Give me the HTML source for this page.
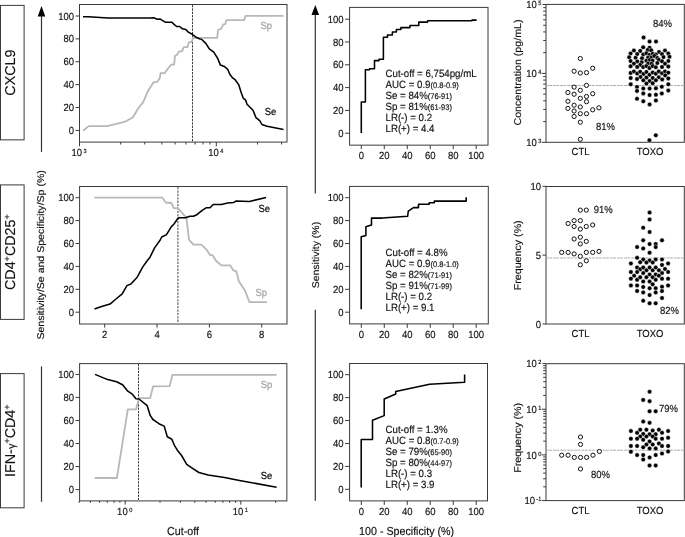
<!DOCTYPE html>
<html><head><meta charset="utf-8"><style>
html,body{margin:0;padding:0;background:#fff;overflow:hidden;}
svg{display:block;font-family:"Liberation Sans", sans-serif;will-change:transform;}
text{stroke-width:0.15px;stroke-linejoin:round;text-rendering:geometricPrecision;}
</style></head><body>
<svg width="685" height="537" viewBox="0 0 685 537">
<rect width="685" height="537" fill="#fff"/>
<rect x="0.5" y="5.4" width="23.6" height="134.45" fill="none" stroke="#3a3a3a" stroke-width="1"/>
<text transform="translate(15.3,72.62) rotate(-90)" font-size="14.3" text-anchor="middle" fill="#111" stroke="#111">CXCL9</text>
<rect x="0.5" y="184.9" width="23.6" height="134.50" fill="none" stroke="#3a3a3a" stroke-width="1"/>
<text transform="translate(15.3,252.15) rotate(-90)" font-size="14.3" text-anchor="middle" fill="#111" stroke="#111">CD4<tspan dy="-5" font-size="9">+</tspan><tspan dy="5">CD25</tspan><tspan dy="-5" font-size="9">+</tspan></text>
<rect x="0.5" y="373.6" width="23.6" height="134.20" fill="none" stroke="#3a3a3a" stroke-width="1"/>
<text transform="translate(15.3,440.70) rotate(-90)" font-size="14.3" text-anchor="middle" fill="#111" stroke="#111">IFN-<tspan font-size="11">γ</tspan><tspan dy="-5" font-size="9">+</tspan><tspan dy="5">CD4</tspan><tspan dy="-5" font-size="9">+</tspan></text>
<polygon points="41.50,6.0 37.70,16.5 45.30,16.5" fill="#000"/>
<line x1="41.50" y1="16.00" x2="41.50" y2="151.90" stroke="#333" stroke-width="1.2" />
<line x1="41.50" y1="366.40" x2="41.50" y2="501.80" stroke="#333" stroke-width="1.2" />
<polygon points="315.30,4.9 311.50,14.9 319.10,14.9" fill="#000"/>
<line x1="315.30" y1="14.00" x2="315.30" y2="193.60" stroke="#333" stroke-width="1.2" />
<line x1="315.30" y1="309.70" x2="315.30" y2="500.70" stroke="#333" stroke-width="1.2" />
<text transform="translate(44.4,254.9) rotate(-90) scale(1.08,1)" font-size="9.77" text-anchor="middle" fill="#111" stroke="#111">Sensitivity/Se and Specificity/Sp (%)</text>
<text transform="translate(319.4,255.1) rotate(-90) scale(1.08,1)" font-size="9.72" text-anchor="middle" fill="#111" stroke="#111">Sensitivity (%)</text>
<rect x="79.5" y="4.5" width="207.5" height="137.6" fill="none" stroke="#3a3a3a" stroke-width="1"/>
<line x1="75.50" y1="130.40" x2="79.50" y2="130.40" stroke="#3a3a3a" stroke-width="1" />
<text transform="translate(74.00,134.00) scale(1,1.08)" font-size="9.5" text-anchor="end" fill="#111" stroke="#111" >0</text>
<line x1="75.50" y1="107.52" x2="79.50" y2="107.52" stroke="#3a3a3a" stroke-width="1" />
<text transform="translate(74.00,111.12) scale(1,1.08)" font-size="9.5" text-anchor="end" fill="#111" stroke="#111" >20</text>
<line x1="75.50" y1="84.64" x2="79.50" y2="84.64" stroke="#3a3a3a" stroke-width="1" />
<text transform="translate(74.00,88.24) scale(1,1.08)" font-size="9.5" text-anchor="end" fill="#111" stroke="#111" >40</text>
<line x1="75.50" y1="61.76" x2="79.50" y2="61.76" stroke="#3a3a3a" stroke-width="1" />
<text transform="translate(74.00,65.36) scale(1,1.08)" font-size="9.5" text-anchor="end" fill="#111" stroke="#111" >60</text>
<line x1="75.50" y1="38.88" x2="79.50" y2="38.88" stroke="#3a3a3a" stroke-width="1" />
<text transform="translate(74.00,42.48) scale(1,1.08)" font-size="9.5" text-anchor="end" fill="#111" stroke="#111" >80</text>
<line x1="75.50" y1="16.00" x2="79.50" y2="16.00" stroke="#3a3a3a" stroke-width="1" />
<text transform="translate(74.00,19.60) scale(1,1.08)" font-size="9.5" text-anchor="end" fill="#111" stroke="#111" >100</text>
<line x1="79.50" y1="142.10" x2="79.50" y2="146.30" stroke="#3a3a3a" stroke-width="1" />
<line x1="120.68" y1="142.10" x2="120.68" y2="144.50" stroke="#3a3a3a" stroke-width="1" />
<line x1="144.77" y1="142.10" x2="144.77" y2="144.50" stroke="#3a3a3a" stroke-width="1" />
<line x1="161.86" y1="142.10" x2="161.86" y2="144.50" stroke="#3a3a3a" stroke-width="1" />
<line x1="175.12" y1="142.10" x2="175.12" y2="144.50" stroke="#3a3a3a" stroke-width="1" />
<line x1="185.95" y1="142.10" x2="185.95" y2="144.50" stroke="#3a3a3a" stroke-width="1" />
<line x1="195.11" y1="142.10" x2="195.11" y2="144.50" stroke="#3a3a3a" stroke-width="1" />
<line x1="203.04" y1="142.10" x2="203.04" y2="144.50" stroke="#3a3a3a" stroke-width="1" />
<line x1="210.04" y1="142.10" x2="210.04" y2="144.50" stroke="#3a3a3a" stroke-width="1" />
<line x1="216.30" y1="142.10" x2="216.30" y2="146.30" stroke="#3a3a3a" stroke-width="1" />
<line x1="257.48" y1="142.10" x2="257.48" y2="144.50" stroke="#3a3a3a" stroke-width="1" />
<line x1="281.57" y1="142.10" x2="281.57" y2="144.50" stroke="#3a3a3a" stroke-width="1" />
<text transform="translate(71.40,155.80) scale(1,1.08)" font-size="9.5" text-anchor="start" fill="#111" stroke="#111" >10<tspan dx="1.5" dy="-2.8" font-size="5.6">3</tspan></text>
<text transform="translate(208.20,155.80) scale(1,1.08)" font-size="9.5" text-anchor="start" fill="#111" stroke="#111" >10<tspan dx="1.5" dy="-2.8" font-size="5.6">4</tspan></text>
<line x1="192.50" y1="5.00" x2="192.50" y2="142.00" stroke="#3c3c3c" stroke-width="1" stroke-dasharray="2.3,1.05"/>
<polyline points="83.20,130.70 88.70,126.10 106.90,126.10 116.40,123.80 125.10,121.70 133.00,117.30 137.80,109.00 143.30,101.90 148.00,90.90 153.60,82.20 156.90,82.20 159.70,78.30 160.60,73.10 164.80,73.10 168.00,68.50 171.30,64.60 174.10,64.60 175.00,55.90 176.90,55.00 179.20,51.30 182.00,51.30 183.80,47.10 187.60,47.10 188.70,42.40 191.70,42.00 192.70,38.70 194.10,37.80 217.20,37.80 218.00,29.80 221.00,29.00 223.20,24.60 225.40,23.80 226.20,20.10 244.00,20.10 245.50,15.90 283.50,15.90" fill="none" stroke="#b8b8b8" stroke-width="1.8" stroke-linejoin="round" />
<polyline points="83.00,16.70 88.60,16.70 108.00,18.10 150.00,18.00 153.60,17.80 157.30,19.30 160.20,19.10 165.30,22.20 171.90,22.20 174.10,24.40 176.60,26.50 179.60,26.50 182.50,28.80 185.80,29.50 188.30,32.10 192.30,34.30 196.00,37.20 200.00,39.00 201.50,39.30 206.00,43.60 209.30,48.90 213.80,52.10 217.80,58.60 220.40,65.10 224.30,66.40 227.70,69.30 229.90,74.50 232.90,78.20 235.10,79.70 238.80,84.90 241.10,92.30 243.30,98.30 245.50,99.80 247.00,104.30 253.00,110.20 256.00,117.70 259.70,120.70 261.90,124.40 267.10,126.30 283.50,129.60" fill="none" stroke="#000" stroke-width="1.55" stroke-linejoin="round" />
<text transform="translate(260.50,28.60) scale(1,1.08)" font-size="9.5" text-anchor="start" fill="#a0a0a0" stroke="#a0a0a0" >Sp</text>
<text transform="translate(264.70,115.10) scale(1,1.08)" font-size="9.5" text-anchor="start" fill="#000" stroke="#000" >Se</text>
<rect x="79.6" y="186.5" width="207.4" height="137.5" fill="none" stroke="#3a3a3a" stroke-width="1"/>
<line x1="75.50" y1="312.20" x2="79.50" y2="312.20" stroke="#3a3a3a" stroke-width="1" />
<text transform="translate(74.00,315.80) scale(1,1.08)" font-size="9.5" text-anchor="end" fill="#111" stroke="#111" >0</text>
<line x1="75.50" y1="289.30" x2="79.50" y2="289.30" stroke="#3a3a3a" stroke-width="1" />
<text transform="translate(74.00,292.90) scale(1,1.08)" font-size="9.5" text-anchor="end" fill="#111" stroke="#111" >20</text>
<line x1="75.50" y1="266.40" x2="79.50" y2="266.40" stroke="#3a3a3a" stroke-width="1" />
<text transform="translate(74.00,270.00) scale(1,1.08)" font-size="9.5" text-anchor="end" fill="#111" stroke="#111" >40</text>
<line x1="75.50" y1="243.50" x2="79.50" y2="243.50" stroke="#3a3a3a" stroke-width="1" />
<text transform="translate(74.00,247.10) scale(1,1.08)" font-size="9.5" text-anchor="end" fill="#111" stroke="#111" >60</text>
<line x1="75.50" y1="220.60" x2="79.50" y2="220.60" stroke="#3a3a3a" stroke-width="1" />
<text transform="translate(74.00,224.20) scale(1,1.08)" font-size="9.5" text-anchor="end" fill="#111" stroke="#111" >80</text>
<line x1="75.50" y1="197.70" x2="79.50" y2="197.70" stroke="#3a3a3a" stroke-width="1" />
<text transform="translate(74.00,201.30) scale(1,1.08)" font-size="9.5" text-anchor="end" fill="#111" stroke="#111" >100</text>
<line x1="104.70" y1="324.00" x2="104.70" y2="327.60" stroke="#3a3a3a" stroke-width="1" />
<text transform="translate(104.70,337.60) scale(1,1.08)" font-size="9.5" text-anchor="middle" fill="#111" stroke="#111" >2</text>
<line x1="157.04" y1="324.00" x2="157.04" y2="327.60" stroke="#3a3a3a" stroke-width="1" />
<text transform="translate(157.04,337.60) scale(1,1.08)" font-size="9.5" text-anchor="middle" fill="#111" stroke="#111" >4</text>
<line x1="209.38" y1="324.00" x2="209.38" y2="327.60" stroke="#3a3a3a" stroke-width="1" />
<text transform="translate(209.38,337.60) scale(1,1.08)" font-size="9.5" text-anchor="middle" fill="#111" stroke="#111" >6</text>
<line x1="261.72" y1="324.00" x2="261.72" y2="327.60" stroke="#3a3a3a" stroke-width="1" />
<text transform="translate(261.72,337.60) scale(1,1.08)" font-size="9.5" text-anchor="middle" fill="#111" stroke="#111" >8</text>
<line x1="177.90" y1="187.00" x2="177.90" y2="323.00" stroke="#7a7a7a" stroke-width="1.4" stroke-dasharray="2.3,1.1"/>
<polyline points="94.30,197.70 162.50,197.70 165.70,202.50 171.40,203.00 173.80,208.10 177.80,208.10 186.40,217.70 189.00,239.60 193.40,244.70 201.30,244.70 206.50,249.60 210.00,254.90 212.70,255.40 216.20,261.00 221.40,265.40 230.20,265.40 233.70,270.70 236.30,271.20 238.90,281.20 245.10,290.80 249.50,302.20 267.00,302.20" fill="none" stroke="#b8b8b8" stroke-width="1.8" stroke-linejoin="round" />
<polyline points="94.50,309.10 100.80,306.80 110.00,304.10 116.60,298.50 122.20,293.80 126.90,285.60 130.90,284.00 137.20,277.20 142.80,266.90 148.10,259.50 149.90,257.40 154.60,247.90 160.20,240.00 161.70,237.00 166.50,234.60 171.40,226.60 173.80,224.20 177.80,218.50 179.40,217.70 185.50,217.70 189.90,216.30 193.40,216.30 196.90,214.70 202.20,210.30 206.50,207.70 210.00,207.70 213.20,204.50 221.40,204.50 227.60,203.10 233.70,202.40 236.30,201.00 249.50,201.40 266.10,197.50" fill="none" stroke="#000" stroke-width="1.55" stroke-linejoin="round" />
<text transform="translate(258.50,212.40) scale(1,1.08)" font-size="9.5" text-anchor="start" fill="#000" stroke="#000" >Se</text>
<text transform="translate(255.40,296.10) scale(1,1.08)" font-size="9.5" text-anchor="start" fill="#a0a0a0" stroke="#a0a0a0" >Sp</text>
<rect x="79.6" y="363.6" width="207.25000000000003" height="137.29999999999995" fill="none" stroke="#3a3a3a" stroke-width="1"/>
<line x1="75.50" y1="489.60" x2="79.50" y2="489.60" stroke="#3a3a3a" stroke-width="1" />
<text transform="translate(74.00,493.20) scale(1,1.08)" font-size="9.5" text-anchor="end" fill="#111" stroke="#111" >0</text>
<line x1="75.50" y1="466.56" x2="79.50" y2="466.56" stroke="#3a3a3a" stroke-width="1" />
<text transform="translate(74.00,470.16) scale(1,1.08)" font-size="9.5" text-anchor="end" fill="#111" stroke="#111" >20</text>
<line x1="75.50" y1="443.52" x2="79.50" y2="443.52" stroke="#3a3a3a" stroke-width="1" />
<text transform="translate(74.00,447.12) scale(1,1.08)" font-size="9.5" text-anchor="end" fill="#111" stroke="#111" >40</text>
<line x1="75.50" y1="420.48" x2="79.50" y2="420.48" stroke="#3a3a3a" stroke-width="1" />
<text transform="translate(74.00,424.08) scale(1,1.08)" font-size="9.5" text-anchor="end" fill="#111" stroke="#111" >60</text>
<line x1="75.50" y1="397.44" x2="79.50" y2="397.44" stroke="#3a3a3a" stroke-width="1" />
<text transform="translate(74.00,401.04) scale(1,1.08)" font-size="9.5" text-anchor="end" fill="#111" stroke="#111" >80</text>
<line x1="75.50" y1="374.40" x2="79.50" y2="374.40" stroke="#3a3a3a" stroke-width="1" />
<text transform="translate(74.00,378.00) scale(1,1.08)" font-size="9.5" text-anchor="end" fill="#111" stroke="#111" >100</text>
<line x1="79.20" y1="500.90" x2="79.20" y2="502.80" stroke="#3a3a3a" stroke-width="1" />
<line x1="90.40" y1="500.90" x2="90.40" y2="502.80" stroke="#3a3a3a" stroke-width="1" />
<line x1="99.55" y1="500.90" x2="99.55" y2="502.80" stroke="#3a3a3a" stroke-width="1" />
<line x1="107.29" y1="500.90" x2="107.29" y2="502.80" stroke="#3a3a3a" stroke-width="1" />
<line x1="114.00" y1="500.90" x2="114.00" y2="502.80" stroke="#3a3a3a" stroke-width="1" />
<line x1="119.91" y1="500.90" x2="119.91" y2="502.80" stroke="#3a3a3a" stroke-width="1" />
<line x1="125.20" y1="500.90" x2="125.20" y2="504.60" stroke="#3a3a3a" stroke-width="1" />
<line x1="160.00" y1="500.90" x2="160.00" y2="502.80" stroke="#3a3a3a" stroke-width="1" />
<line x1="180.36" y1="500.90" x2="180.36" y2="502.80" stroke="#3a3a3a" stroke-width="1" />
<line x1="194.80" y1="500.90" x2="194.80" y2="502.80" stroke="#3a3a3a" stroke-width="1" />
<line x1="206.00" y1="500.90" x2="206.00" y2="502.80" stroke="#3a3a3a" stroke-width="1" />
<line x1="215.15" y1="500.90" x2="215.15" y2="502.80" stroke="#3a3a3a" stroke-width="1" />
<line x1="222.89" y1="500.90" x2="222.89" y2="502.80" stroke="#3a3a3a" stroke-width="1" />
<line x1="229.60" y1="500.90" x2="229.60" y2="502.80" stroke="#3a3a3a" stroke-width="1" />
<line x1="235.51" y1="500.90" x2="235.51" y2="502.80" stroke="#3a3a3a" stroke-width="1" />
<line x1="240.80" y1="500.90" x2="240.80" y2="504.60" stroke="#3a3a3a" stroke-width="1" />
<line x1="275.60" y1="500.90" x2="275.60" y2="502.80" stroke="#3a3a3a" stroke-width="1" />
<text transform="translate(117.10,514.80) scale(1,1.08)" font-size="9.5" text-anchor="start" fill="#111" stroke="#111" >10<tspan dx="1.5" dy="-2.8" font-size="5.6">0</tspan></text>
<text transform="translate(232.70,514.80) scale(1,1.08)" font-size="9.5" text-anchor="start" fill="#111" stroke="#111" >10<tspan dx="1.5" dy="-2.8" font-size="5.6">1</tspan></text>
<line x1="138.50" y1="364.00" x2="138.50" y2="500.00" stroke="#3c3c3c" stroke-width="1" stroke-dasharray="2.3,1.05"/>
<polyline points="94.80,478.00 116.90,478.00 127.80,409.40 136.00,409.40 139.00,398.20 150.20,398.20 153.10,386.30 169.70,386.10 172.40,374.80 276.60,374.80" fill="none" stroke="#b8b8b8" stroke-width="1.8" stroke-linejoin="round" />
<polyline points="95.00,374.40 107.70,379.60 116.60,381.80 122.60,384.80 127.80,391.20 132.30,394.20 136.00,398.70 139.00,399.00 147.20,405.70 150.20,415.40 153.10,419.80 155.00,420.80 160.00,424.30 164.20,426.10 167.30,436.70 171.80,439.20 174.40,445.30 177.50,450.40 181.60,455.50 186.70,464.30 191.80,467.80 198.90,472.50 208.10,475.00 224.50,477.40 240.80,480.70 276.60,487.20" fill="none" stroke="#000" stroke-width="1.55" stroke-linejoin="round" />
<text transform="translate(260.70,388.10) scale(1,1.08)" font-size="9.5" text-anchor="start" fill="#a0a0a0" stroke="#a0a0a0" >Sp</text>
<text transform="translate(260.70,479.00) scale(1,1.08)" font-size="9.5" text-anchor="start" fill="#000" stroke="#000" >Se</text>
<text transform="translate(183.00,534.60) scale(1,1.08)" font-size="10.7" text-anchor="middle" fill="#111" stroke="#111" >Cut-off</text>
<rect x="349.6" y="7.4" width="138.39999999999998" height="137.75" fill="none" stroke="#3a3a3a" stroke-width="1"/>
<line x1="345.10" y1="133.20" x2="349.60" y2="133.20" stroke="#3a3a3a" stroke-width="1" />
<text transform="translate(343.60,136.80) scale(1,1.08)" font-size="9.5" text-anchor="end" fill="#111" stroke="#111" >0</text>
<line x1="345.10" y1="110.40" x2="349.60" y2="110.40" stroke="#3a3a3a" stroke-width="1" />
<text transform="translate(343.60,114.00) scale(1,1.08)" font-size="9.5" text-anchor="end" fill="#111" stroke="#111" >20</text>
<line x1="345.10" y1="87.60" x2="349.60" y2="87.60" stroke="#3a3a3a" stroke-width="1" />
<text transform="translate(343.60,91.20) scale(1,1.08)" font-size="9.5" text-anchor="end" fill="#111" stroke="#111" >40</text>
<line x1="345.10" y1="64.80" x2="349.60" y2="64.80" stroke="#3a3a3a" stroke-width="1" />
<text transform="translate(343.60,68.40) scale(1,1.08)" font-size="9.5" text-anchor="end" fill="#111" stroke="#111" >60</text>
<line x1="345.10" y1="42.00" x2="349.60" y2="42.00" stroke="#3a3a3a" stroke-width="1" />
<text transform="translate(343.60,45.60) scale(1,1.08)" font-size="9.5" text-anchor="end" fill="#111" stroke="#111" >80</text>
<line x1="345.10" y1="19.20" x2="349.60" y2="19.20" stroke="#3a3a3a" stroke-width="1" />
<text transform="translate(343.60,22.80) scale(1,1.08)" font-size="9.5" text-anchor="end" fill="#111" stroke="#111" >100</text>
<line x1="361.30" y1="145.15" x2="361.30" y2="149.15" stroke="#3a3a3a" stroke-width="1" />
<text transform="translate(361.30,158.75) scale(1,1.08)" font-size="9.5" text-anchor="middle" fill="#111" stroke="#111" >0</text>
<line x1="384.28" y1="145.15" x2="384.28" y2="149.15" stroke="#3a3a3a" stroke-width="1" />
<text transform="translate(384.28,158.75) scale(1,1.08)" font-size="9.5" text-anchor="middle" fill="#111" stroke="#111" >20</text>
<line x1="407.26" y1="145.15" x2="407.26" y2="149.15" stroke="#3a3a3a" stroke-width="1" />
<text transform="translate(407.26,158.75) scale(1,1.08)" font-size="9.5" text-anchor="middle" fill="#111" stroke="#111" >40</text>
<line x1="430.24" y1="145.15" x2="430.24" y2="149.15" stroke="#3a3a3a" stroke-width="1" />
<text transform="translate(430.24,158.75) scale(1,1.08)" font-size="9.5" text-anchor="middle" fill="#111" stroke="#111" >60</text>
<line x1="453.22" y1="145.15" x2="453.22" y2="149.15" stroke="#3a3a3a" stroke-width="1" />
<text transform="translate(453.22,158.75) scale(1,1.08)" font-size="9.5" text-anchor="middle" fill="#111" stroke="#111" >80</text>
<line x1="476.20" y1="145.15" x2="476.20" y2="149.15" stroke="#3a3a3a" stroke-width="1" />
<text transform="translate(476.20,158.75) scale(1,1.08)" font-size="9.5" text-anchor="middle" fill="#111" stroke="#111" >100</text>
<polyline points="361.30,133.00 361.30,101.90 365.40,101.90 365.40,69.70 369.60,69.70 369.60,68.80 374.50,68.80 374.50,60.60 379.00,60.60 379.00,59.30 383.40,59.30 383.40,37.20 387.50,37.20 387.50,35.00 392.40,35.00 392.40,32.00 396.40,32.00 396.40,29.50 400.90,29.50 400.90,27.60 410.00,27.60 410.00,25.40 418.80,25.40 418.80,22.10 427.60,22.10 427.60,20.80 472.00,20.80 472.00,20.10 476.60,20.10" fill="none" stroke="#000" stroke-width="1.55" stroke-linejoin="round" stroke-linejoin="miter"/>
<text transform="translate(385.50,76.60) scale(1,1.08)" font-size="9.7" text-anchor="start" fill="#111" stroke="#111" >Cut-off = 6,754pg/mL</text>
<text transform="translate(385.50,87.60) scale(1,1.08)" font-size="9.7" text-anchor="start" fill="#111" stroke="#111" >AUC = 0.9<tspan font-size="7.5">(0.8-0.9)</tspan></text>
<text transform="translate(385.50,98.60) scale(1,1.08)" font-size="9.7" text-anchor="start" fill="#111" stroke="#111" >Se = 84%<tspan font-size="7.5">(76-91)</tspan></text>
<text transform="translate(385.50,109.60) scale(1,1.08)" font-size="9.7" text-anchor="start" fill="#111" stroke="#111" >Sp = 81%<tspan font-size="7.5">(61-93)</tspan></text>
<text transform="translate(385.50,120.60) scale(1,1.08)" font-size="9.7" text-anchor="start" fill="#111" stroke="#111" >LR(-) = 0.2</text>
<text transform="translate(385.50,131.60) scale(1,1.08)" font-size="9.7" text-anchor="start" fill="#111" stroke="#111" >LR(+) = 4.4</text>
<rect x="349.6" y="186.4" width="138.7" height="137.49999999999997" fill="none" stroke="#3a3a3a" stroke-width="1"/>
<line x1="345.10" y1="312.20" x2="349.60" y2="312.20" stroke="#3a3a3a" stroke-width="1" />
<text transform="translate(343.60,315.80) scale(1,1.08)" font-size="9.5" text-anchor="end" fill="#111" stroke="#111" >0</text>
<line x1="345.10" y1="289.30" x2="349.60" y2="289.30" stroke="#3a3a3a" stroke-width="1" />
<text transform="translate(343.60,292.90) scale(1,1.08)" font-size="9.5" text-anchor="end" fill="#111" stroke="#111" >20</text>
<line x1="345.10" y1="266.40" x2="349.60" y2="266.40" stroke="#3a3a3a" stroke-width="1" />
<text transform="translate(343.60,270.00) scale(1,1.08)" font-size="9.5" text-anchor="end" fill="#111" stroke="#111" >40</text>
<line x1="345.10" y1="243.50" x2="349.60" y2="243.50" stroke="#3a3a3a" stroke-width="1" />
<text transform="translate(343.60,247.10) scale(1,1.08)" font-size="9.5" text-anchor="end" fill="#111" stroke="#111" >60</text>
<line x1="345.10" y1="220.60" x2="349.60" y2="220.60" stroke="#3a3a3a" stroke-width="1" />
<text transform="translate(343.60,224.20) scale(1,1.08)" font-size="9.5" text-anchor="end" fill="#111" stroke="#111" >80</text>
<line x1="345.10" y1="197.70" x2="349.60" y2="197.70" stroke="#3a3a3a" stroke-width="1" />
<text transform="translate(343.60,201.30) scale(1,1.08)" font-size="9.5" text-anchor="end" fill="#111" stroke="#111" >100</text>
<line x1="361.30" y1="323.90" x2="361.30" y2="327.90" stroke="#3a3a3a" stroke-width="1" />
<text transform="translate(361.30,337.50) scale(1,1.08)" font-size="9.5" text-anchor="middle" fill="#111" stroke="#111" >0</text>
<line x1="384.28" y1="323.90" x2="384.28" y2="327.90" stroke="#3a3a3a" stroke-width="1" />
<text transform="translate(384.28,337.50) scale(1,1.08)" font-size="9.5" text-anchor="middle" fill="#111" stroke="#111" >20</text>
<line x1="407.26" y1="323.90" x2="407.26" y2="327.90" stroke="#3a3a3a" stroke-width="1" />
<text transform="translate(407.26,337.50) scale(1,1.08)" font-size="9.5" text-anchor="middle" fill="#111" stroke="#111" >40</text>
<line x1="430.24" y1="323.90" x2="430.24" y2="327.90" stroke="#3a3a3a" stroke-width="1" />
<text transform="translate(430.24,337.50) scale(1,1.08)" font-size="9.5" text-anchor="middle" fill="#111" stroke="#111" >60</text>
<line x1="453.22" y1="323.90" x2="453.22" y2="327.90" stroke="#3a3a3a" stroke-width="1" />
<text transform="translate(453.22,337.50) scale(1,1.08)" font-size="9.5" text-anchor="middle" fill="#111" stroke="#111" >80</text>
<line x1="476.20" y1="323.90" x2="476.20" y2="327.90" stroke="#3a3a3a" stroke-width="1" />
<text transform="translate(476.20,337.50) scale(1,1.08)" font-size="9.5" text-anchor="middle" fill="#111" stroke="#111" >100</text>
<polyline points="361.20,309.20 361.20,236.80 365.90,235.40 365.90,226.70 371.50,224.90 371.50,218.10 382.20,218.10 407.60,216.30 408.30,211.10 413.50,207.60 418.50,207.60 418.50,204.30 429.20,204.30 429.20,202.80 434.30,202.80 434.30,201.10 466.20,201.10 466.20,197.30" fill="none" stroke="#000" stroke-width="1.55" stroke-linejoin="round" stroke-linejoin="miter"/>
<text transform="translate(385.50,255.90) scale(1,1.08)" font-size="9.7" text-anchor="start" fill="#111" stroke="#111" >Cut-off = 4.8%</text>
<text transform="translate(385.50,266.90) scale(1,1.08)" font-size="9.7" text-anchor="start" fill="#111" stroke="#111" >AUC = 0.9<tspan font-size="7.5">(0.8-1.0)</tspan></text>
<text transform="translate(385.50,277.90) scale(1,1.08)" font-size="9.7" text-anchor="start" fill="#111" stroke="#111" >Se = 82%<tspan font-size="7.5">(71-91)</tspan></text>
<text transform="translate(385.50,288.90) scale(1,1.08)" font-size="9.7" text-anchor="start" fill="#111" stroke="#111" >Sp = 91%<tspan font-size="7.5">(71-99)</tspan></text>
<text transform="translate(385.50,299.90) scale(1,1.08)" font-size="9.7" text-anchor="start" fill="#111" stroke="#111" >LR(-) = 0.2</text>
<text transform="translate(385.50,310.90) scale(1,1.08)" font-size="9.7" text-anchor="start" fill="#111" stroke="#111" >LR(+) = 9.1</text>
<rect x="349.6" y="363.5" width="137.89999999999998" height="137.39999999999998" fill="none" stroke="#3a3a3a" stroke-width="1"/>
<line x1="345.10" y1="489.30" x2="349.60" y2="489.30" stroke="#3a3a3a" stroke-width="1" />
<text transform="translate(343.60,492.90) scale(1,1.08)" font-size="9.5" text-anchor="end" fill="#111" stroke="#111" >0</text>
<line x1="345.10" y1="466.38" x2="349.60" y2="466.38" stroke="#3a3a3a" stroke-width="1" />
<text transform="translate(343.60,469.98) scale(1,1.08)" font-size="9.5" text-anchor="end" fill="#111" stroke="#111" >20</text>
<line x1="345.10" y1="443.46" x2="349.60" y2="443.46" stroke="#3a3a3a" stroke-width="1" />
<text transform="translate(343.60,447.06) scale(1,1.08)" font-size="9.5" text-anchor="end" fill="#111" stroke="#111" >40</text>
<line x1="345.10" y1="420.54" x2="349.60" y2="420.54" stroke="#3a3a3a" stroke-width="1" />
<text transform="translate(343.60,424.14) scale(1,1.08)" font-size="9.5" text-anchor="end" fill="#111" stroke="#111" >60</text>
<line x1="345.10" y1="397.62" x2="349.60" y2="397.62" stroke="#3a3a3a" stroke-width="1" />
<text transform="translate(343.60,401.22) scale(1,1.08)" font-size="9.5" text-anchor="end" fill="#111" stroke="#111" >80</text>
<line x1="345.10" y1="374.70" x2="349.60" y2="374.70" stroke="#3a3a3a" stroke-width="1" />
<text transform="translate(343.60,378.30) scale(1,1.08)" font-size="9.5" text-anchor="end" fill="#111" stroke="#111" >100</text>
<line x1="361.30" y1="500.90" x2="361.30" y2="504.90" stroke="#3a3a3a" stroke-width="1" />
<text transform="translate(361.30,514.50) scale(1,1.08)" font-size="9.5" text-anchor="middle" fill="#111" stroke="#111" >0</text>
<line x1="384.28" y1="500.90" x2="384.28" y2="504.90" stroke="#3a3a3a" stroke-width="1" />
<text transform="translate(384.28,514.50) scale(1,1.08)" font-size="9.5" text-anchor="middle" fill="#111" stroke="#111" >20</text>
<line x1="407.26" y1="500.90" x2="407.26" y2="504.90" stroke="#3a3a3a" stroke-width="1" />
<text transform="translate(407.26,514.50) scale(1,1.08)" font-size="9.5" text-anchor="middle" fill="#111" stroke="#111" >40</text>
<line x1="430.24" y1="500.90" x2="430.24" y2="504.90" stroke="#3a3a3a" stroke-width="1" />
<text transform="translate(430.24,514.50) scale(1,1.08)" font-size="9.5" text-anchor="middle" fill="#111" stroke="#111" >60</text>
<line x1="453.22" y1="500.90" x2="453.22" y2="504.90" stroke="#3a3a3a" stroke-width="1" />
<text transform="translate(453.22,514.50) scale(1,1.08)" font-size="9.5" text-anchor="middle" fill="#111" stroke="#111" >80</text>
<line x1="476.20" y1="500.90" x2="476.20" y2="504.90" stroke="#3a3a3a" stroke-width="1" />
<text transform="translate(476.20,514.50) scale(1,1.08)" font-size="9.5" text-anchor="middle" fill="#111" stroke="#111" >100</text>
<polyline points="361.20,487.40 361.20,439.50 372.50,439.50 372.50,420.30 384.20,415.60 384.20,399.00 395.70,394.00 395.70,391.60 429.60,384.30 464.60,382.20 464.60,374.60" fill="none" stroke="#000" stroke-width="1.55" stroke-linejoin="round" stroke-linejoin="miter"/>
<text transform="translate(385.50,432.80) scale(1,1.08)" font-size="9.7" text-anchor="start" fill="#111" stroke="#111" >Cut-off = 1.3%</text>
<text transform="translate(385.50,443.80) scale(1,1.08)" font-size="9.7" text-anchor="start" fill="#111" stroke="#111" >AUC = 0.8<tspan font-size="7.5">(0.7-0.9)</tspan></text>
<text transform="translate(385.50,454.80) scale(1,1.08)" font-size="9.7" text-anchor="start" fill="#111" stroke="#111" >Se = 79%<tspan font-size="7.5">(65-90)</tspan></text>
<text transform="translate(385.50,465.80) scale(1,1.08)" font-size="9.7" text-anchor="start" fill="#111" stroke="#111" >Sp = 80%<tspan font-size="7.5">(44-97)</tspan></text>
<text transform="translate(385.50,476.80) scale(1,1.08)" font-size="9.7" text-anchor="start" fill="#111" stroke="#111" >LR(-) = 0.3</text>
<text transform="translate(385.50,487.80) scale(1,1.08)" font-size="9.7" text-anchor="start" fill="#111" stroke="#111" >LR(+) = 3.9</text>
<text transform="translate(406.60,534.70) scale(1,1.08)" font-size="10.7" text-anchor="middle" fill="#111" stroke="#111" >100 - Specificity (%)</text>
<rect x="546.0" y="4.4" width="138.29999999999995" height="137.9" fill="none" stroke="#3a3a3a" stroke-width="1"/>
<text transform="translate(580.50,154.90) scale(1,1.08)" font-size="9.5" text-anchor="middle" fill="#111" stroke="#111" >CTL</text>
<text transform="translate(650.00,154.90) scale(1,1.08)" font-size="9.5" text-anchor="middle" fill="#111" stroke="#111" >TOXO</text>
<line x1="541.80" y1="142.30" x2="546.00" y2="142.30" stroke="#3a3a3a" stroke-width="1" />
<line x1="543.20" y1="121.56" x2="546.00" y2="121.56" stroke="#3a3a3a" stroke-width="1" />
<line x1="543.20" y1="109.43" x2="546.00" y2="109.43" stroke="#3a3a3a" stroke-width="1" />
<line x1="543.20" y1="100.82" x2="546.00" y2="100.82" stroke="#3a3a3a" stroke-width="1" />
<line x1="543.20" y1="94.14" x2="546.00" y2="94.14" stroke="#3a3a3a" stroke-width="1" />
<line x1="543.20" y1="88.69" x2="546.00" y2="88.69" stroke="#3a3a3a" stroke-width="1" />
<line x1="543.20" y1="84.07" x2="546.00" y2="84.07" stroke="#3a3a3a" stroke-width="1" />
<line x1="543.20" y1="80.08" x2="546.00" y2="80.08" stroke="#3a3a3a" stroke-width="1" />
<line x1="543.20" y1="76.55" x2="546.00" y2="76.55" stroke="#3a3a3a" stroke-width="1" />
<line x1="541.80" y1="73.40" x2="546.00" y2="73.40" stroke="#3a3a3a" stroke-width="1" />
<line x1="543.20" y1="52.66" x2="546.00" y2="52.66" stroke="#3a3a3a" stroke-width="1" />
<line x1="543.20" y1="40.53" x2="546.00" y2="40.53" stroke="#3a3a3a" stroke-width="1" />
<line x1="543.20" y1="31.92" x2="546.00" y2="31.92" stroke="#3a3a3a" stroke-width="1" />
<line x1="543.20" y1="25.24" x2="546.00" y2="25.24" stroke="#3a3a3a" stroke-width="1" />
<line x1="543.20" y1="19.79" x2="546.00" y2="19.79" stroke="#3a3a3a" stroke-width="1" />
<line x1="543.20" y1="15.17" x2="546.00" y2="15.17" stroke="#3a3a3a" stroke-width="1" />
<line x1="543.20" y1="11.18" x2="546.00" y2="11.18" stroke="#3a3a3a" stroke-width="1" />
<line x1="543.20" y1="7.65" x2="546.00" y2="7.65" stroke="#3a3a3a" stroke-width="1" />
<line x1="542.50" y1="4.50" x2="546.00" y2="4.50" stroke="#3a3a3a" stroke-width="1" />
<text transform="translate(536.90,146.00) scale(1,1.08)" font-size="9.5" text-anchor="end" fill="#111" stroke="#111" >10</text>
<text transform="translate(541.30,143.20) scale(1,1.08)" font-size="5.6" text-anchor="end" fill="#111" stroke="#111" >3</text>
<text transform="translate(536.90,77.10) scale(1,1.08)" font-size="9.5" text-anchor="end" fill="#111" stroke="#111" >10</text>
<text transform="translate(541.30,74.30) scale(1,1.08)" font-size="5.6" text-anchor="end" fill="#111" stroke="#111" >4</text>
<text transform="translate(536.90,8.20) scale(1,1.08)" font-size="9.5" text-anchor="end" fill="#111" stroke="#111" >10</text>
<text transform="translate(541.30,5.40) scale(1,1.08)" font-size="5.6" text-anchor="end" fill="#111" stroke="#111" >5</text>
<line x1="546.00" y1="85.50" x2="684.30" y2="85.50" stroke="#ababab" stroke-width="1.0" stroke-dasharray="2.8,0.5,2.8,1.0"/>
<text transform="translate(521.1,72.5) rotate(-90) scale(1.08,1)" font-size="9.9" text-anchor="middle" fill="#111" stroke="#111">Concentration (pg/mL)</text>
<circle cx="580.30" cy="58.50" r="2.1" fill="#fff" stroke="#111" stroke-width="1.0"/>
<circle cx="574.10" cy="71.20" r="2.1" fill="#fff" stroke="#111" stroke-width="1.0"/>
<circle cx="580.30" cy="73.00" r="2.1" fill="#fff" stroke="#111" stroke-width="1.0"/>
<circle cx="586.50" cy="72.60" r="2.1" fill="#fff" stroke="#111" stroke-width="1.0"/>
<circle cx="592.70" cy="68.20" r="2.1" fill="#fff" stroke="#111" stroke-width="1.0"/>
<circle cx="586.50" cy="85.40" r="2.1" fill="#fff" stroke="#111" stroke-width="1.0"/>
<circle cx="574.10" cy="87.10" r="2.1" fill="#fff" stroke="#111" stroke-width="1.0"/>
<circle cx="580.30" cy="90.30" r="2.1" fill="#fff" stroke="#111" stroke-width="1.0"/>
<circle cx="567.90" cy="92.50" r="2.1" fill="#fff" stroke="#111" stroke-width="1.0"/>
<circle cx="574.10" cy="94.20" r="2.1" fill="#fff" stroke="#111" stroke-width="1.0"/>
<circle cx="592.70" cy="93.70" r="2.1" fill="#fff" stroke="#111" stroke-width="1.0"/>
<circle cx="586.50" cy="96.50" r="2.1" fill="#fff" stroke="#111" stroke-width="1.0"/>
<circle cx="580.30" cy="98.30" r="2.1" fill="#fff" stroke="#111" stroke-width="1.0"/>
<circle cx="567.90" cy="101.30" r="2.1" fill="#fff" stroke="#111" stroke-width="1.0"/>
<circle cx="586.50" cy="101.70" r="2.1" fill="#fff" stroke="#111" stroke-width="1.0"/>
<circle cx="574.10" cy="105.20" r="2.1" fill="#fff" stroke="#111" stroke-width="1.0"/>
<circle cx="580.30" cy="107.00" r="2.1" fill="#fff" stroke="#111" stroke-width="1.0"/>
<circle cx="567.90" cy="108.40" r="2.1" fill="#fff" stroke="#111" stroke-width="1.0"/>
<circle cx="598.90" cy="107.80" r="2.1" fill="#fff" stroke="#111" stroke-width="1.0"/>
<circle cx="592.70" cy="109.80" r="2.1" fill="#fff" stroke="#111" stroke-width="1.0"/>
<circle cx="574.10" cy="111.00" r="2.1" fill="#fff" stroke="#111" stroke-width="1.0"/>
<circle cx="580.30" cy="113.70" r="2.1" fill="#fff" stroke="#111" stroke-width="1.0"/>
<circle cx="586.50" cy="113.70" r="2.1" fill="#fff" stroke="#111" stroke-width="1.0"/>
<circle cx="574.10" cy="116.50" r="2.1" fill="#fff" stroke="#111" stroke-width="1.0"/>
<circle cx="580.30" cy="122.20" r="2.1" fill="#fff" stroke="#111" stroke-width="1.0"/>
<circle cx="580.30" cy="139.30" r="2.1" fill="#fff" stroke="#111" stroke-width="1.0"/>
<circle cx="643.60" cy="37.40" r="2.25" fill="#000" stroke="#fff" stroke-width="0.45"/>
<circle cx="649.60" cy="41.60" r="2.25" fill="#000" stroke="#fff" stroke-width="0.45"/>
<circle cx="656.00" cy="41.60" r="2.25" fill="#000" stroke="#fff" stroke-width="0.45"/>
<circle cx="643.20" cy="47.30" r="2.25" fill="#000" stroke="#fff" stroke-width="0.45"/>
<circle cx="649.50" cy="47.70" r="2.25" fill="#000" stroke="#fff" stroke-width="0.45"/>
<circle cx="633.90" cy="50.60" r="2.25" fill="#000" stroke="#fff" stroke-width="0.45"/>
<circle cx="640.20" cy="50.90" r="2.25" fill="#000" stroke="#fff" stroke-width="0.45"/>
<circle cx="647.60" cy="50.00" r="2.25" fill="#000" stroke="#fff" stroke-width="0.45"/>
<circle cx="651.20" cy="50.30" r="2.25" fill="#000" stroke="#fff" stroke-width="0.45"/>
<circle cx="659.00" cy="52.00" r="2.25" fill="#000" stroke="#fff" stroke-width="0.45"/>
<circle cx="665.00" cy="50.60" r="2.25" fill="#000" stroke="#fff" stroke-width="0.45"/>
<circle cx="630.60" cy="53.50" r="2.25" fill="#000" stroke="#fff" stroke-width="0.45"/>
<circle cx="637.20" cy="54.10" r="2.25" fill="#000" stroke="#fff" stroke-width="0.45"/>
<circle cx="643.20" cy="54.40" r="2.25" fill="#000" stroke="#fff" stroke-width="0.45"/>
<circle cx="646.40" cy="53.20" r="2.25" fill="#000" stroke="#fff" stroke-width="0.45"/>
<circle cx="649.40" cy="55.00" r="2.25" fill="#000" stroke="#fff" stroke-width="0.45"/>
<circle cx="652.70" cy="53.70" r="2.25" fill="#000" stroke="#fff" stroke-width="0.45"/>
<circle cx="655.80" cy="54.40" r="2.25" fill="#000" stroke="#fff" stroke-width="0.45"/>
<circle cx="662.00" cy="54.10" r="2.25" fill="#000" stroke="#fff" stroke-width="0.45"/>
<circle cx="668.30" cy="53.50" r="2.25" fill="#000" stroke="#fff" stroke-width="0.45"/>
<circle cx="629.20" cy="57.20" r="2.25" fill="#000" stroke="#fff" stroke-width="0.45"/>
<circle cx="635.60" cy="57.80" r="2.25" fill="#000" stroke="#fff" stroke-width="0.45"/>
<circle cx="642.00" cy="58.30" r="2.25" fill="#000" stroke="#fff" stroke-width="0.45"/>
<circle cx="648.10" cy="57.70" r="2.25" fill="#000" stroke="#fff" stroke-width="0.45"/>
<circle cx="651.40" cy="57.40" r="2.25" fill="#000" stroke="#fff" stroke-width="0.45"/>
<circle cx="654.30" cy="55.90" r="2.25" fill="#000" stroke="#fff" stroke-width="0.45"/>
<circle cx="657.30" cy="58.00" r="2.25" fill="#000" stroke="#fff" stroke-width="0.45"/>
<circle cx="663.50" cy="57.10" r="2.25" fill="#000" stroke="#fff" stroke-width="0.45"/>
<circle cx="669.50" cy="56.80" r="2.25" fill="#000" stroke="#fff" stroke-width="0.45"/>
<circle cx="630.60" cy="61.00" r="2.25" fill="#000" stroke="#fff" stroke-width="0.45"/>
<circle cx="637.20" cy="61.40" r="2.25" fill="#000" stroke="#fff" stroke-width="0.45"/>
<circle cx="641.70" cy="62.20" r="2.25" fill="#000" stroke="#fff" stroke-width="0.45"/>
<circle cx="646.40" cy="60.70" r="2.25" fill="#000" stroke="#fff" stroke-width="0.45"/>
<circle cx="649.80" cy="60.10" r="2.25" fill="#000" stroke="#fff" stroke-width="0.45"/>
<circle cx="652.60" cy="60.70" r="2.25" fill="#000" stroke="#fff" stroke-width="0.45"/>
<circle cx="658.80" cy="59.80" r="2.25" fill="#000" stroke="#fff" stroke-width="0.45"/>
<circle cx="662.00" cy="61.30" r="2.25" fill="#000" stroke="#fff" stroke-width="0.45"/>
<circle cx="668.30" cy="61.00" r="2.25" fill="#000" stroke="#fff" stroke-width="0.45"/>
<circle cx="633.90" cy="63.70" r="2.25" fill="#000" stroke="#fff" stroke-width="0.45"/>
<circle cx="640.20" cy="64.90" r="2.25" fill="#000" stroke="#fff" stroke-width="0.45"/>
<circle cx="648.10" cy="63.40" r="2.25" fill="#000" stroke="#fff" stroke-width="0.45"/>
<circle cx="651.70" cy="63.70" r="2.25" fill="#000" stroke="#fff" stroke-width="0.45"/>
<circle cx="657.30" cy="63.10" r="2.25" fill="#000" stroke="#fff" stroke-width="0.45"/>
<circle cx="665.00" cy="63.70" r="2.25" fill="#000" stroke="#fff" stroke-width="0.45"/>
<circle cx="630.60" cy="66.30" r="2.25" fill="#000" stroke="#fff" stroke-width="0.45"/>
<circle cx="637.20" cy="66.90" r="2.25" fill="#000" stroke="#fff" stroke-width="0.45"/>
<circle cx="643.20" cy="67.10" r="2.25" fill="#000" stroke="#fff" stroke-width="0.45"/>
<circle cx="646.40" cy="66.10" r="2.25" fill="#000" stroke="#fff" stroke-width="0.45"/>
<circle cx="649.40" cy="68.10" r="2.25" fill="#000" stroke="#fff" stroke-width="0.45"/>
<circle cx="652.70" cy="66.10" r="2.25" fill="#000" stroke="#fff" stroke-width="0.45"/>
<circle cx="655.80" cy="67.20" r="2.25" fill="#000" stroke="#fff" stroke-width="0.45"/>
<circle cx="662.00" cy="66.90" r="2.25" fill="#000" stroke="#fff" stroke-width="0.45"/>
<circle cx="668.30" cy="66.60" r="2.25" fill="#000" stroke="#fff" stroke-width="0.45"/>
<circle cx="630.60" cy="72.90" r="2.25" fill="#000" stroke="#fff" stroke-width="0.45"/>
<circle cx="633.90" cy="71.40" r="2.25" fill="#000" stroke="#fff" stroke-width="0.45"/>
<circle cx="637.20" cy="73.50" r="2.25" fill="#000" stroke="#fff" stroke-width="0.45"/>
<circle cx="640.20" cy="71.70" r="2.25" fill="#000" stroke="#fff" stroke-width="0.45"/>
<circle cx="643.40" cy="73.90" r="2.25" fill="#000" stroke="#fff" stroke-width="0.45"/>
<circle cx="646.40" cy="72.00" r="2.25" fill="#000" stroke="#fff" stroke-width="0.45"/>
<circle cx="649.50" cy="74.70" r="2.25" fill="#000" stroke="#fff" stroke-width="0.45"/>
<circle cx="652.70" cy="72.50" r="2.25" fill="#000" stroke="#fff" stroke-width="0.45"/>
<circle cx="655.80" cy="73.80" r="2.25" fill="#000" stroke="#fff" stroke-width="0.45"/>
<circle cx="658.80" cy="71.40" r="2.25" fill="#000" stroke="#fff" stroke-width="0.45"/>
<circle cx="662.00" cy="73.30" r="2.25" fill="#000" stroke="#fff" stroke-width="0.45"/>
<circle cx="665.00" cy="71.40" r="2.25" fill="#000" stroke="#fff" stroke-width="0.45"/>
<circle cx="668.30" cy="72.70" r="2.25" fill="#000" stroke="#fff" stroke-width="0.45"/>
<circle cx="640.50" cy="76.90" r="2.25" fill="#000" stroke="#fff" stroke-width="0.45"/>
<circle cx="646.40" cy="77.60" r="2.25" fill="#000" stroke="#fff" stroke-width="0.45"/>
<circle cx="652.70" cy="78.00" r="2.25" fill="#000" stroke="#fff" stroke-width="0.45"/>
<circle cx="658.80" cy="77.30" r="2.25" fill="#000" stroke="#fff" stroke-width="0.45"/>
<circle cx="665.20" cy="75.40" r="2.25" fill="#000" stroke="#fff" stroke-width="0.45"/>
<circle cx="630.70" cy="78.00" r="2.25" fill="#000" stroke="#fff" stroke-width="0.45"/>
<circle cx="637.00" cy="79.00" r="2.25" fill="#000" stroke="#fff" stroke-width="0.45"/>
<circle cx="643.30" cy="80.30" r="2.25" fill="#000" stroke="#fff" stroke-width="0.45"/>
<circle cx="649.60" cy="81.00" r="2.25" fill="#000" stroke="#fff" stroke-width="0.45"/>
<circle cx="655.90" cy="80.30" r="2.25" fill="#000" stroke="#fff" stroke-width="0.45"/>
<circle cx="662.20" cy="79.40" r="2.25" fill="#000" stroke="#fff" stroke-width="0.45"/>
<circle cx="668.30" cy="78.40" r="2.25" fill="#000" stroke="#fff" stroke-width="0.45"/>
<circle cx="646.40" cy="83.60" r="2.25" fill="#000" stroke="#fff" stroke-width="0.45"/>
<circle cx="652.70" cy="83.20" r="2.25" fill="#000" stroke="#fff" stroke-width="0.45"/>
<circle cx="630.70" cy="84.30" r="2.25" fill="#000" stroke="#fff" stroke-width="0.45"/>
<circle cx="668.30" cy="84.30" r="2.25" fill="#000" stroke="#fff" stroke-width="0.45"/>
<circle cx="637.00" cy="86.90" r="2.25" fill="#000" stroke="#fff" stroke-width="0.45"/>
<circle cx="643.30" cy="88.50" r="2.25" fill="#000" stroke="#fff" stroke-width="0.45"/>
<circle cx="649.60" cy="88.50" r="2.25" fill="#000" stroke="#fff" stroke-width="0.45"/>
<circle cx="655.90" cy="88.30" r="2.25" fill="#000" stroke="#fff" stroke-width="0.45"/>
<circle cx="661.80" cy="86.70" r="2.25" fill="#000" stroke="#fff" stroke-width="0.45"/>
<circle cx="637.00" cy="90.90" r="2.25" fill="#000" stroke="#fff" stroke-width="0.45"/>
<circle cx="668.30" cy="90.60" r="2.25" fill="#000" stroke="#fff" stroke-width="0.45"/>
<circle cx="643.30" cy="93.40" r="2.25" fill="#000" stroke="#fff" stroke-width="0.45"/>
<circle cx="649.60" cy="95.10" r="2.25" fill="#000" stroke="#fff" stroke-width="0.45"/>
<circle cx="655.90" cy="94.80" r="2.25" fill="#000" stroke="#fff" stroke-width="0.45"/>
<circle cx="661.80" cy="93.40" r="2.25" fill="#000" stroke="#fff" stroke-width="0.45"/>
<circle cx="637.00" cy="98.80" r="2.25" fill="#000" stroke="#fff" stroke-width="0.45"/>
<circle cx="643.30" cy="101.30" r="2.25" fill="#000" stroke="#fff" stroke-width="0.45"/>
<circle cx="655.90" cy="100.60" r="2.25" fill="#000" stroke="#fff" stroke-width="0.45"/>
<circle cx="649.60" cy="104.40" r="2.25" fill="#000" stroke="#fff" stroke-width="0.45"/>
<circle cx="649.40" cy="140.20" r="2.25" fill="#000" stroke="#fff" stroke-width="0.45"/>
<circle cx="655.80" cy="135.30" r="2.25" fill="#000" stroke="#fff" stroke-width="0.45"/>
<text transform="translate(653.00,26.70) scale(1,1.08)" font-size="9.5" text-anchor="start" fill="#111" stroke="#111" >84%</text>
<text transform="translate(596.00,129.60) scale(1,1.08)" font-size="9.5" text-anchor="start" fill="#111" stroke="#111" >81%</text>
<rect x="546.0" y="186.5" width="138.29999999999995" height="137.5" fill="none" stroke="#3a3a3a" stroke-width="1"/>
<text transform="translate(580.50,337.00) scale(1,1.08)" font-size="9.5" text-anchor="middle" fill="#111" stroke="#111" >CTL</text>
<text transform="translate(650.00,337.00) scale(1,1.08)" font-size="9.5" text-anchor="middle" fill="#111" stroke="#111" >TOXO</text>
<line x1="542.50" y1="324.00" x2="546.00" y2="324.00" stroke="#3a3a3a" stroke-width="1" />
<text transform="translate(541.00,327.70) scale(1,1.08)" font-size="9.5" text-anchor="end" fill="#111" stroke="#111" >0</text>
<line x1="542.50" y1="255.15" x2="546.00" y2="255.15" stroke="#3a3a3a" stroke-width="1" />
<text transform="translate(541.00,258.85) scale(1,1.08)" font-size="9.5" text-anchor="end" fill="#111" stroke="#111" >5</text>
<line x1="542.50" y1="186.30" x2="546.00" y2="186.30" stroke="#3a3a3a" stroke-width="1" />
<text transform="translate(541.00,190.00) scale(1,1.08)" font-size="9.5" text-anchor="end" fill="#111" stroke="#111" >10</text>
<line x1="546.00" y1="258.00" x2="684.30" y2="258.00" stroke="#ababab" stroke-width="1.0" stroke-dasharray="2.8,0.5,2.8,1.0"/>
<text transform="translate(521.1,255.3) rotate(-90) scale(1.08,1)" font-size="9.9" text-anchor="middle" fill="#111" stroke="#111">Frequency (%)</text>
<circle cx="580.30" cy="210.10" r="2.1" fill="#fff" stroke="#111" stroke-width="1.0"/>
<circle cx="586.30" cy="210.10" r="2.1" fill="#fff" stroke="#111" stroke-width="1.0"/>
<circle cx="568.10" cy="223.50" r="2.1" fill="#fff" stroke="#111" stroke-width="1.0"/>
<circle cx="574.10" cy="220.60" r="2.1" fill="#fff" stroke="#111" stroke-width="1.0"/>
<circle cx="580.30" cy="220.60" r="2.1" fill="#fff" stroke="#111" stroke-width="1.0"/>
<circle cx="574.10" cy="226.50" r="2.1" fill="#fff" stroke="#111" stroke-width="1.0"/>
<circle cx="580.30" cy="229.10" r="2.1" fill="#fff" stroke="#111" stroke-width="1.0"/>
<circle cx="586.30" cy="226.50" r="2.1" fill="#fff" stroke="#111" stroke-width="1.0"/>
<circle cx="592.70" cy="225.00" r="2.1" fill="#fff" stroke="#111" stroke-width="1.0"/>
<circle cx="574.10" cy="239.00" r="2.1" fill="#fff" stroke="#111" stroke-width="1.0"/>
<circle cx="580.30" cy="237.20" r="2.1" fill="#fff" stroke="#111" stroke-width="1.0"/>
<circle cx="580.30" cy="243.90" r="2.1" fill="#fff" stroke="#111" stroke-width="1.0"/>
<circle cx="586.30" cy="241.40" r="2.1" fill="#fff" stroke="#111" stroke-width="1.0"/>
<circle cx="561.70" cy="252.40" r="2.1" fill="#fff" stroke="#111" stroke-width="1.0"/>
<circle cx="568.10" cy="252.40" r="2.1" fill="#fff" stroke="#111" stroke-width="1.0"/>
<circle cx="574.10" cy="253.90" r="2.1" fill="#fff" stroke="#111" stroke-width="1.0"/>
<circle cx="580.30" cy="256.30" r="2.1" fill="#fff" stroke="#111" stroke-width="1.0"/>
<circle cx="586.30" cy="252.40" r="2.1" fill="#fff" stroke="#111" stroke-width="1.0"/>
<circle cx="592.70" cy="252.40" r="2.1" fill="#fff" stroke="#111" stroke-width="1.0"/>
<circle cx="599.00" cy="251.40" r="2.1" fill="#fff" stroke="#111" stroke-width="1.0"/>
<circle cx="586.30" cy="260.80" r="2.1" fill="#fff" stroke="#111" stroke-width="1.0"/>
<circle cx="580.30" cy="264.80" r="2.1" fill="#fff" stroke="#111" stroke-width="1.0"/>
<circle cx="649.60" cy="212.60" r="2.25" fill="#000" stroke="#fff" stroke-width="0.45"/>
<circle cx="649.60" cy="219.50" r="2.25" fill="#000" stroke="#fff" stroke-width="0.45"/>
<circle cx="643.20" cy="227.70" r="2.25" fill="#000" stroke="#fff" stroke-width="0.45"/>
<circle cx="649.60" cy="232.00" r="2.25" fill="#000" stroke="#fff" stroke-width="0.45"/>
<circle cx="643.20" cy="240.30" r="2.25" fill="#000" stroke="#fff" stroke-width="0.45"/>
<circle cx="662.00" cy="240.30" r="2.25" fill="#000" stroke="#fff" stroke-width="0.45"/>
<circle cx="649.60" cy="244.10" r="2.25" fill="#000" stroke="#fff" stroke-width="0.45"/>
<circle cx="655.70" cy="244.10" r="2.25" fill="#000" stroke="#fff" stroke-width="0.45"/>
<circle cx="637.10" cy="247.10" r="2.25" fill="#000" stroke="#fff" stroke-width="0.45"/>
<circle cx="643.20" cy="248.40" r="2.25" fill="#000" stroke="#fff" stroke-width="0.45"/>
<circle cx="655.70" cy="247.10" r="2.25" fill="#000" stroke="#fff" stroke-width="0.45"/>
<circle cx="649.60" cy="252.70" r="2.25" fill="#000" stroke="#fff" stroke-width="0.45"/>
<circle cx="637.10" cy="257.80" r="2.25" fill="#000" stroke="#fff" stroke-width="0.45"/>
<circle cx="643.20" cy="259.40" r="2.25" fill="#000" stroke="#fff" stroke-width="0.45"/>
<circle cx="649.60" cy="260.50" r="2.25" fill="#000" stroke="#fff" stroke-width="0.45"/>
<circle cx="655.70" cy="259.40" r="2.25" fill="#000" stroke="#fff" stroke-width="0.45"/>
<circle cx="662.00" cy="259.40" r="2.25" fill="#000" stroke="#fff" stroke-width="0.45"/>
<circle cx="630.90" cy="263.40" r="2.25" fill="#000" stroke="#fff" stroke-width="0.45"/>
<circle cx="640.20" cy="262.20" r="2.25" fill="#000" stroke="#fff" stroke-width="0.45"/>
<circle cx="646.40" cy="262.50" r="2.25" fill="#000" stroke="#fff" stroke-width="0.45"/>
<circle cx="652.70" cy="262.50" r="2.25" fill="#000" stroke="#fff" stroke-width="0.45"/>
<circle cx="662.00" cy="264.90" r="2.25" fill="#000" stroke="#fff" stroke-width="0.45"/>
<circle cx="668.10" cy="263.40" r="2.25" fill="#000" stroke="#fff" stroke-width="0.45"/>
<circle cx="637.10" cy="267.50" r="2.25" fill="#000" stroke="#fff" stroke-width="0.45"/>
<circle cx="640.20" cy="269.20" r="2.25" fill="#000" stroke="#fff" stroke-width="0.45"/>
<circle cx="643.20" cy="267.50" r="2.25" fill="#000" stroke="#fff" stroke-width="0.45"/>
<circle cx="646.40" cy="270.30" r="2.25" fill="#000" stroke="#fff" stroke-width="0.45"/>
<circle cx="649.60" cy="267.50" r="2.25" fill="#000" stroke="#fff" stroke-width="0.45"/>
<circle cx="652.70" cy="270.30" r="2.25" fill="#000" stroke="#fff" stroke-width="0.45"/>
<circle cx="655.70" cy="267.50" r="2.25" fill="#000" stroke="#fff" stroke-width="0.45"/>
<circle cx="658.90" cy="270.30" r="2.25" fill="#000" stroke="#fff" stroke-width="0.45"/>
<circle cx="665.00" cy="269.00" r="2.25" fill="#000" stroke="#fff" stroke-width="0.45"/>
<circle cx="630.90" cy="272.00" r="2.25" fill="#000" stroke="#fff" stroke-width="0.45"/>
<circle cx="637.10" cy="272.00" r="2.25" fill="#000" stroke="#fff" stroke-width="0.45"/>
<circle cx="643.20" cy="273.10" r="2.25" fill="#000" stroke="#fff" stroke-width="0.45"/>
<circle cx="649.60" cy="274.50" r="2.25" fill="#000" stroke="#fff" stroke-width="0.45"/>
<circle cx="655.70" cy="274.50" r="2.25" fill="#000" stroke="#fff" stroke-width="0.45"/>
<circle cx="662.00" cy="273.10" r="2.25" fill="#000" stroke="#fff" stroke-width="0.45"/>
<circle cx="668.10" cy="272.00" r="2.25" fill="#000" stroke="#fff" stroke-width="0.45"/>
<circle cx="634.10" cy="275.70" r="2.25" fill="#000" stroke="#fff" stroke-width="0.45"/>
<circle cx="658.90" cy="275.70" r="2.25" fill="#000" stroke="#fff" stroke-width="0.45"/>
<circle cx="630.90" cy="278.70" r="2.25" fill="#000" stroke="#fff" stroke-width="0.45"/>
<circle cx="637.10" cy="279.80" r="2.25" fill="#000" stroke="#fff" stroke-width="0.45"/>
<circle cx="640.20" cy="277.20" r="2.25" fill="#000" stroke="#fff" stroke-width="0.45"/>
<circle cx="646.40" cy="277.20" r="2.25" fill="#000" stroke="#fff" stroke-width="0.45"/>
<circle cx="652.70" cy="277.20" r="2.25" fill="#000" stroke="#fff" stroke-width="0.45"/>
<circle cx="655.70" cy="279.80" r="2.25" fill="#000" stroke="#fff" stroke-width="0.45"/>
<circle cx="662.00" cy="278.70" r="2.25" fill="#000" stroke="#fff" stroke-width="0.45"/>
<circle cx="668.10" cy="278.70" r="2.25" fill="#000" stroke="#fff" stroke-width="0.45"/>
<circle cx="643.20" cy="281.50" r="2.25" fill="#000" stroke="#fff" stroke-width="0.45"/>
<circle cx="649.60" cy="281.50" r="2.25" fill="#000" stroke="#fff" stroke-width="0.45"/>
<circle cx="652.70" cy="284.30" r="2.25" fill="#000" stroke="#fff" stroke-width="0.45"/>
<circle cx="630.90" cy="285.40" r="2.25" fill="#000" stroke="#fff" stroke-width="0.45"/>
<circle cx="637.10" cy="285.40" r="2.25" fill="#000" stroke="#fff" stroke-width="0.45"/>
<circle cx="643.20" cy="287.00" r="2.25" fill="#000" stroke="#fff" stroke-width="0.45"/>
<circle cx="649.60" cy="288.20" r="2.25" fill="#000" stroke="#fff" stroke-width="0.45"/>
<circle cx="655.70" cy="288.20" r="2.25" fill="#000" stroke="#fff" stroke-width="0.45"/>
<circle cx="662.00" cy="286.80" r="2.25" fill="#000" stroke="#fff" stroke-width="0.45"/>
<circle cx="668.10" cy="285.40" r="2.25" fill="#000" stroke="#fff" stroke-width="0.45"/>
<circle cx="637.10" cy="291.00" r="2.25" fill="#000" stroke="#fff" stroke-width="0.45"/>
<circle cx="643.20" cy="292.40" r="2.25" fill="#000" stroke="#fff" stroke-width="0.45"/>
<circle cx="655.70" cy="292.40" r="2.25" fill="#000" stroke="#fff" stroke-width="0.45"/>
<circle cx="662.00" cy="291.00" r="2.25" fill="#000" stroke="#fff" stroke-width="0.45"/>
<circle cx="649.60" cy="295.10" r="2.25" fill="#000" stroke="#fff" stroke-width="0.45"/>
<circle cx="662.00" cy="298.00" r="2.25" fill="#000" stroke="#fff" stroke-width="0.45"/>
<circle cx="643.20" cy="300.70" r="2.25" fill="#000" stroke="#fff" stroke-width="0.45"/>
<circle cx="649.60" cy="303.30" r="2.25" fill="#000" stroke="#fff" stroke-width="0.45"/>
<circle cx="655.70" cy="303.30" r="2.25" fill="#000" stroke="#fff" stroke-width="0.45"/>
<text transform="translate(593.70,212.70) scale(1,1.08)" font-size="9.5" text-anchor="start" fill="#111" stroke="#111" >91%</text>
<text transform="translate(660.00,313.60) scale(1,1.08)" font-size="9.5" text-anchor="start" fill="#111" stroke="#111" >82%</text>
<rect x="546.0" y="363.7" width="138.29999999999995" height="136.90000000000003" fill="none" stroke="#3a3a3a" stroke-width="1"/>
<text transform="translate(580.50,514.20) scale(1,1.08)" font-size="9.5" text-anchor="middle" fill="#111" stroke="#111" >CTL</text>
<text transform="translate(650.00,514.20) scale(1,1.08)" font-size="9.5" text-anchor="middle" fill="#111" stroke="#111" >TOXO</text>
<line x1="541.80" y1="500.57" x2="546.00" y2="500.57" stroke="#3a3a3a" stroke-width="1" />
<line x1="543.20" y1="486.82" x2="546.00" y2="486.82" stroke="#3a3a3a" stroke-width="1" />
<line x1="543.20" y1="478.78" x2="546.00" y2="478.78" stroke="#3a3a3a" stroke-width="1" />
<line x1="543.20" y1="473.07" x2="546.00" y2="473.07" stroke="#3a3a3a" stroke-width="1" />
<line x1="543.20" y1="468.65" x2="546.00" y2="468.65" stroke="#3a3a3a" stroke-width="1" />
<line x1="543.20" y1="465.03" x2="546.00" y2="465.03" stroke="#3a3a3a" stroke-width="1" />
<line x1="543.20" y1="461.97" x2="546.00" y2="461.97" stroke="#3a3a3a" stroke-width="1" />
<line x1="543.20" y1="459.33" x2="546.00" y2="459.33" stroke="#3a3a3a" stroke-width="1" />
<line x1="543.20" y1="456.99" x2="546.00" y2="456.99" stroke="#3a3a3a" stroke-width="1" />
<line x1="541.80" y1="454.90" x2="546.00" y2="454.90" stroke="#3a3a3a" stroke-width="1" />
<line x1="543.20" y1="441.15" x2="546.00" y2="441.15" stroke="#3a3a3a" stroke-width="1" />
<line x1="543.20" y1="433.11" x2="546.00" y2="433.11" stroke="#3a3a3a" stroke-width="1" />
<line x1="543.20" y1="427.40" x2="546.00" y2="427.40" stroke="#3a3a3a" stroke-width="1" />
<line x1="543.20" y1="422.98" x2="546.00" y2="422.98" stroke="#3a3a3a" stroke-width="1" />
<line x1="543.20" y1="419.36" x2="546.00" y2="419.36" stroke="#3a3a3a" stroke-width="1" />
<line x1="543.20" y1="416.30" x2="546.00" y2="416.30" stroke="#3a3a3a" stroke-width="1" />
<line x1="543.20" y1="413.66" x2="546.00" y2="413.66" stroke="#3a3a3a" stroke-width="1" />
<line x1="543.20" y1="411.32" x2="546.00" y2="411.32" stroke="#3a3a3a" stroke-width="1" />
<line x1="541.80" y1="409.23" x2="546.00" y2="409.23" stroke="#3a3a3a" stroke-width="1" />
<line x1="543.20" y1="395.48" x2="546.00" y2="395.48" stroke="#3a3a3a" stroke-width="1" />
<line x1="543.20" y1="387.44" x2="546.00" y2="387.44" stroke="#3a3a3a" stroke-width="1" />
<line x1="543.20" y1="381.73" x2="546.00" y2="381.73" stroke="#3a3a3a" stroke-width="1" />
<line x1="543.20" y1="377.31" x2="546.00" y2="377.31" stroke="#3a3a3a" stroke-width="1" />
<line x1="543.20" y1="373.69" x2="546.00" y2="373.69" stroke="#3a3a3a" stroke-width="1" />
<line x1="543.20" y1="370.63" x2="546.00" y2="370.63" stroke="#3a3a3a" stroke-width="1" />
<line x1="543.20" y1="367.99" x2="546.00" y2="367.99" stroke="#3a3a3a" stroke-width="1" />
<line x1="543.20" y1="365.65" x2="546.00" y2="365.65" stroke="#3a3a3a" stroke-width="1" />
<line x1="542.50" y1="363.56" x2="546.00" y2="363.56" stroke="#3a3a3a" stroke-width="1" />
<text transform="translate(535.00,504.27) scale(1,1.08)" font-size="9.5" text-anchor="end" fill="#111" stroke="#111" >10</text>
<text transform="translate(541.30,501.47) scale(1,1.08)" font-size="5.6" text-anchor="end" fill="#111" stroke="#111" >-1</text>
<text transform="translate(536.90,458.60) scale(1,1.08)" font-size="9.5" text-anchor="end" fill="#111" stroke="#111" >10</text>
<text transform="translate(541.30,455.80) scale(1,1.08)" font-size="5.6" text-anchor="end" fill="#111" stroke="#111" >0</text>
<text transform="translate(536.90,412.93) scale(1,1.08)" font-size="9.5" text-anchor="end" fill="#111" stroke="#111" >10</text>
<text transform="translate(541.30,410.13) scale(1,1.08)" font-size="5.6" text-anchor="end" fill="#111" stroke="#111" >1</text>
<text transform="translate(536.90,367.26) scale(1,1.08)" font-size="9.5" text-anchor="end" fill="#111" stroke="#111" >10</text>
<text transform="translate(541.30,364.46) scale(1,1.08)" font-size="5.6" text-anchor="end" fill="#111" stroke="#111" >2</text>
<line x1="546.00" y1="450.20" x2="684.30" y2="450.20" stroke="#ababab" stroke-width="1.0" stroke-dasharray="2.8,0.5,2.8,1.0"/>
<text transform="translate(521.1,437.9) rotate(-90) scale(1.08,1)" font-size="9.9" text-anchor="middle" fill="#111" stroke="#111">Frequency (%)</text>
<circle cx="580.50" cy="437.00" r="2.1" fill="#fff" stroke="#111" stroke-width="1.0"/>
<circle cx="580.50" cy="444.40" r="2.1" fill="#fff" stroke="#111" stroke-width="1.0"/>
<circle cx="561.70" cy="455.20" r="2.1" fill="#fff" stroke="#111" stroke-width="1.0"/>
<circle cx="568.10" cy="455.20" r="2.1" fill="#fff" stroke="#111" stroke-width="1.0"/>
<circle cx="574.30" cy="457.40" r="2.1" fill="#fff" stroke="#111" stroke-width="1.0"/>
<circle cx="580.50" cy="457.40" r="2.1" fill="#fff" stroke="#111" stroke-width="1.0"/>
<circle cx="586.60" cy="457.40" r="2.1" fill="#fff" stroke="#111" stroke-width="1.0"/>
<circle cx="593.00" cy="455.20" r="2.1" fill="#fff" stroke="#111" stroke-width="1.0"/>
<circle cx="599.40" cy="451.50" r="2.1" fill="#fff" stroke="#111" stroke-width="1.0"/>
<circle cx="580.50" cy="468.90" r="2.1" fill="#fff" stroke="#111" stroke-width="1.0"/>
<circle cx="649.60" cy="391.70" r="2.25" fill="#000" stroke="#fff" stroke-width="0.45"/>
<circle cx="643.20" cy="399.90" r="2.25" fill="#000" stroke="#fff" stroke-width="0.45"/>
<circle cx="649.60" cy="401.20" r="2.25" fill="#000" stroke="#fff" stroke-width="0.45"/>
<circle cx="649.60" cy="411.30" r="2.25" fill="#000" stroke="#fff" stroke-width="0.45"/>
<circle cx="655.70" cy="411.30" r="2.25" fill="#000" stroke="#fff" stroke-width="0.45"/>
<circle cx="643.20" cy="421.60" r="2.25" fill="#000" stroke="#fff" stroke-width="0.45"/>
<circle cx="649.60" cy="422.80" r="2.25" fill="#000" stroke="#fff" stroke-width="0.45"/>
<circle cx="630.90" cy="431.00" r="2.25" fill="#000" stroke="#fff" stroke-width="0.45"/>
<circle cx="637.10" cy="432.80" r="2.25" fill="#000" stroke="#fff" stroke-width="0.45"/>
<circle cx="640.20" cy="429.70" r="2.25" fill="#000" stroke="#fff" stroke-width="0.45"/>
<circle cx="643.20" cy="433.90" r="2.25" fill="#000" stroke="#fff" stroke-width="0.45"/>
<circle cx="646.40" cy="429.70" r="2.25" fill="#000" stroke="#fff" stroke-width="0.45"/>
<circle cx="649.60" cy="434.20" r="2.25" fill="#000" stroke="#fff" stroke-width="0.45"/>
<circle cx="652.70" cy="430.60" r="2.25" fill="#000" stroke="#fff" stroke-width="0.45"/>
<circle cx="655.70" cy="434.20" r="2.25" fill="#000" stroke="#fff" stroke-width="0.45"/>
<circle cx="658.90" cy="429.70" r="2.25" fill="#000" stroke="#fff" stroke-width="0.45"/>
<circle cx="662.00" cy="432.80" r="2.25" fill="#000" stroke="#fff" stroke-width="0.45"/>
<circle cx="668.10" cy="431.00" r="2.25" fill="#000" stroke="#fff" stroke-width="0.45"/>
<circle cx="640.20" cy="436.50" r="2.25" fill="#000" stroke="#fff" stroke-width="0.45"/>
<circle cx="646.40" cy="436.50" r="2.25" fill="#000" stroke="#fff" stroke-width="0.45"/>
<circle cx="652.70" cy="436.50" r="2.25" fill="#000" stroke="#fff" stroke-width="0.45"/>
<circle cx="630.90" cy="438.70" r="2.25" fill="#000" stroke="#fff" stroke-width="0.45"/>
<circle cx="637.10" cy="438.70" r="2.25" fill="#000" stroke="#fff" stroke-width="0.45"/>
<circle cx="643.20" cy="439.80" r="2.25" fill="#000" stroke="#fff" stroke-width="0.45"/>
<circle cx="655.70" cy="438.70" r="2.25" fill="#000" stroke="#fff" stroke-width="0.45"/>
<circle cx="662.00" cy="438.70" r="2.25" fill="#000" stroke="#fff" stroke-width="0.45"/>
<circle cx="668.10" cy="437.80" r="2.25" fill="#000" stroke="#fff" stroke-width="0.45"/>
<circle cx="649.60" cy="441.40" r="2.25" fill="#000" stroke="#fff" stroke-width="0.45"/>
<circle cx="646.40" cy="444.50" r="2.25" fill="#000" stroke="#fff" stroke-width="0.45"/>
<circle cx="652.70" cy="444.50" r="2.25" fill="#000" stroke="#fff" stroke-width="0.45"/>
<circle cx="658.90" cy="443.40" r="2.25" fill="#000" stroke="#fff" stroke-width="0.45"/>
<circle cx="630.90" cy="446.00" r="2.25" fill="#000" stroke="#fff" stroke-width="0.45"/>
<circle cx="637.10" cy="446.00" r="2.25" fill="#000" stroke="#fff" stroke-width="0.45"/>
<circle cx="643.20" cy="447.30" r="2.25" fill="#000" stroke="#fff" stroke-width="0.45"/>
<circle cx="649.60" cy="448.40" r="2.25" fill="#000" stroke="#fff" stroke-width="0.45"/>
<circle cx="655.70" cy="448.40" r="2.25" fill="#000" stroke="#fff" stroke-width="0.45"/>
<circle cx="662.00" cy="446.00" r="2.25" fill="#000" stroke="#fff" stroke-width="0.45"/>
<circle cx="668.10" cy="446.00" r="2.25" fill="#000" stroke="#fff" stroke-width="0.45"/>
<circle cx="630.90" cy="451.80" r="2.25" fill="#000" stroke="#fff" stroke-width="0.45"/>
<circle cx="668.10" cy="451.50" r="2.25" fill="#000" stroke="#fff" stroke-width="0.45"/>
<circle cx="662.00" cy="453.50" r="2.25" fill="#000" stroke="#fff" stroke-width="0.45"/>
<circle cx="637.10" cy="455.10" r="2.25" fill="#000" stroke="#fff" stroke-width="0.45"/>
<circle cx="643.20" cy="455.10" r="2.25" fill="#000" stroke="#fff" stroke-width="0.45"/>
<circle cx="655.70" cy="455.10" r="2.25" fill="#000" stroke="#fff" stroke-width="0.45"/>
<circle cx="649.60" cy="457.40" r="2.25" fill="#000" stroke="#fff" stroke-width="0.45"/>
<circle cx="643.20" cy="459.60" r="2.25" fill="#000" stroke="#fff" stroke-width="0.45"/>
<circle cx="649.60" cy="465.50" r="2.25" fill="#000" stroke="#fff" stroke-width="0.45"/>
<circle cx="655.70" cy="465.50" r="2.25" fill="#000" stroke="#fff" stroke-width="0.45"/>
<text transform="translate(658.90,411.80) scale(1,1.08)" font-size="9.5" text-anchor="start" fill="#111" stroke="#111" >79%</text>
<text transform="translate(591.00,478.30) scale(1,1.08)" font-size="9.5" text-anchor="start" fill="#111" stroke="#111" >80%</text>
</svg></body></html>
